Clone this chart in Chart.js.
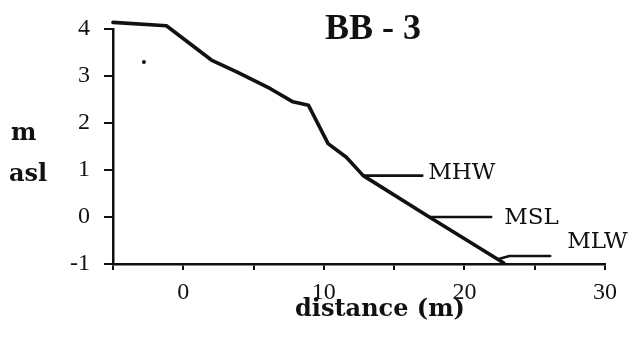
<!DOCTYPE html>
<html>
<head>
<meta charset="utf-8">
<script src="https://cdn.jsdelivr.net/npm/chart.js@4.4.1/dist/chart.umd.min.js"></script>
<style>
  html, body { margin: 0; padding: 0; background: #fff; }
  #wrap { width: 636px; height: 350px; }
</style>
</head>
<body>
<div id="wrap"><canvas id="c" width="636" height="350"></canvas></div>
<script>
// Beach profile BB-3: elevation (m above sea level) against distance (m)
const profileDistance  = [-5.0, -1.2, 2.0, 3.8, 6.2, 7.8, 8.9, 10.3, 11.6, 12.8, 17.5, 22.8];
const profileElevation = [4.14, 4.07, 3.34, 3.09, 2.73, 2.45, 2.38, 1.56, 1.27, 0.88, 0.0, -0.98];

// Tidal reference levels, each a short line running seaward from the profile
const mhwDistance  = [12.8, 17.0];
const mhwElevation = [0.88, 0.88];
const mslDistance  = [17.5, 21.9];
const mslElevation = [0.0, 0.0];
const mlwDistance  = [22.5, 23.2, 26.1];
const mlwElevation = [-0.89, -0.83, -0.83];

// Isolated survey mark on the upper beach
const markDistance  = [-2.8];
const markElevation = [3.3];

// Labelled ticks
const xTickLabels = [0, 10, 20, 30];
const yTickLabels = [-1, 0, 1, 2, 3, 4];

const ink = '#111';

function pts(xs, ys) { return xs.map((x, i) => ({ x, y: ys[i] })); }

function lineSet(xs, ys, width) {
  return {
    data: pts(xs, ys),
    borderColor: ink,
    borderWidth: width,
    pointRadius: 0,
    tension: 0,
    fill: false,
    clip: false,
    borderJoinStyle: 'round',
    borderCapStyle: 'round'
  };
}

// Text for the title, axis names and the tidal level labels
const textPlugin = {
  id: 'profileText',
  afterDraw(chart) {
    const ctx = chart.ctx;
    const xs = chart.scales.x, ys = chart.scales.y;
    ctx.save();
    ctx.fillStyle = ink;
    ctx.textBaseline = 'alphabetic';

    ctx.font = 'bold 36px "Liberation Serif"';
    ctx.textAlign = 'center';
    ctx.fillText('BB - 3', 373, 39);

    ctx.font = 'bold 24px "DejaVu Serif"';
    ctx.textAlign = 'left';
    ctx.fillText('m', 11, 140);
    ctx.fillText('asl', 9, 181);

    ctx.textAlign = 'center';
    ctx.fillText('distance (m)', 380, 316);

    ctx.font = '23px "DejaVu Serif"';
    ctx.textAlign = 'left';
    const levels = [
      { text: 'MHW', x: mhwDistance[mhwDistance.length - 1], y: mhwElevation[mhwElevation.length - 1], dx: 6,  dy: 3 },
      { text: 'MSL', x: mslDistance[mslDistance.length - 1], y: mslElevation[mslElevation.length - 1], dx: 13, dy: 7 },
      { text: 'MLW', x: mlwDistance[mlwDistance.length - 1], y: mlwElevation[mlwElevation.length - 1], dx: 17, dy: -8 }
    ];
    levels.forEach(l => {
      ctx.fillText(l.text, xs.getPixelForValue(l.x) + l.dx, ys.getPixelForValue(l.y) + l.dy);
    });
    ctx.restore();
  }
};

new Chart(document.getElementById('c'), {
  type: 'line',
  data: {
    datasets: [
      lineSet(profileDistance, profileElevation, 3.6),
      lineSet(mhwDistance, mhwElevation, 2.6),
      lineSet(mslDistance, mslElevation, 2.6),
      lineSet(mlwDistance, mlwElevation, 2.6),
      {
        data: pts(markDistance, markElevation),
        showLine: false,
        pointRadius: 2,
        pointBackgroundColor: ink,
        pointBorderWidth: 0,
        clip: false
      }
    ]
  },
  options: {
    responsive: false,
    animation: false,
    events: [],
    layout: { padding: { left: 0, top: 29, right: 31, bottom: 0 } },
    plugins: {
      legend: { display: false },
      tooltip: { enabled: false },
      title: { display: false }
    },
    scales: {
      x: {
        type: 'linear',
        min: -5,
        max: 30,
        afterFit(scale) { scale.height = 86; },
        border: { display: true, color: ink, width: 2.5 },
        grid: { display: true, drawOnChartArea: false, drawTicks: true, tickLength: 6, color: ink, lineWidth: 2 },
        ticks: {
          stepSize: 5,
          padding: 8,
          color: ink,
          font: { family: '"Liberation Serif"', size: 24 },
          callback: v => xTickLabels.includes(v) ? String(v) : ''
        }
      },
      y: {
        type: 'linear',
        min: -1,
        max: 4,
        afterFit(scale) { scale.width = 113; },
        border: { display: true, color: ink, width: 2.5 },
        grid: { display: true, drawOnChartArea: false, drawTicks: true, tickLength: 9, color: ink, lineWidth: 2 },
        ticks: {
          stepSize: 0.5,
          padding: 14,
          color: ink,
          font: { family: '"Liberation Serif"', size: 24 },
          callback: v => yTickLabels.includes(v) ? String(v) : ''
        }
      }
    }
  },
  plugins: [textPlugin]
});
</script>
</body>
</html>
